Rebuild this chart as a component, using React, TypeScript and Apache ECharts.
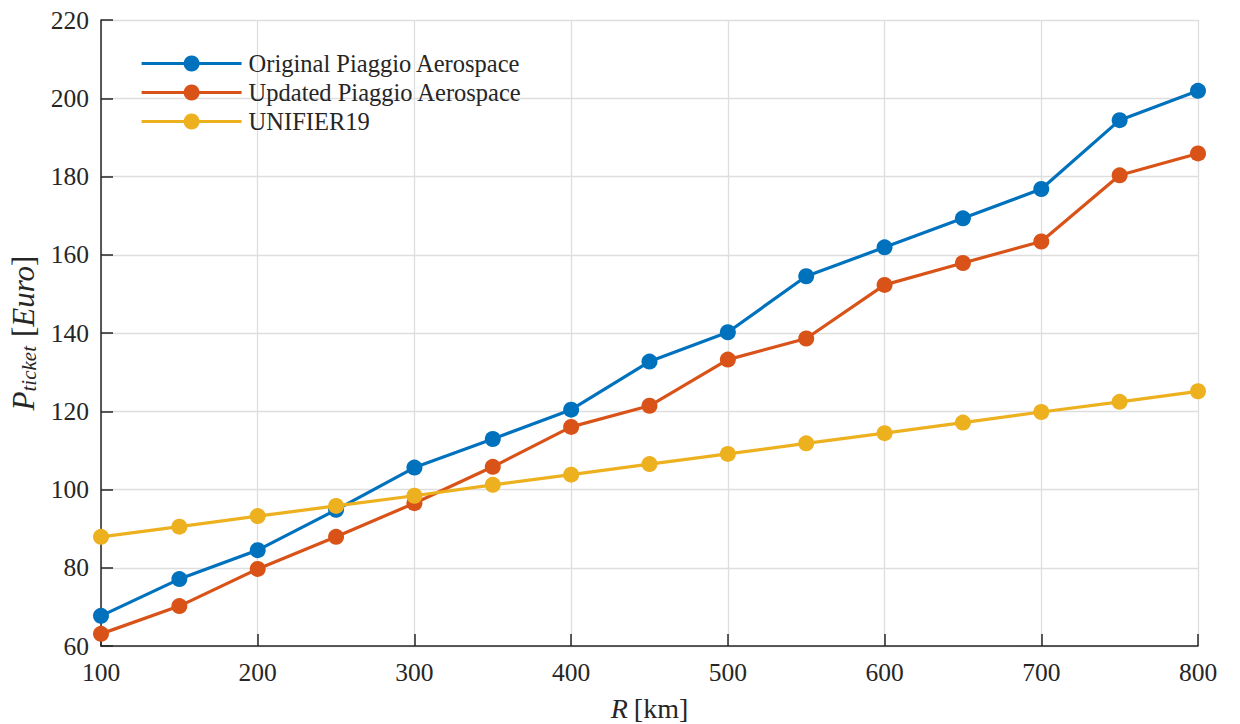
import React, { useEffect, useRef } from "react";
import * as echarts from "echarts";

const ranges = [100, 150, 200, 250, 300, 350, 400, 450, 500, 550, 600, 650, 700, 750, 800];
const originalPiaggio = [67.7, 77.1, 84.5, 94.8, 105.6, 112.9, 120.4, 132.7, 140.2, 154.5, 161.9, 169.3, 176.8, 194.4, 201.9];
const updatedPiaggio = [63.1, 70.2, 79.7, 87.9, 96.5, 105.8, 116.0, 121.4, 133.2, 138.6, 152.3, 157.9, 163.4, 180.3, 185.9];
const unifier19 = [87.9, 90.5, 93.2, 95.8, 98.4, 101.2, 103.8, 106.5, 109.1, 111.8, 114.4, 117.1, 119.8, 122.4, 125.1];
const seriesNames = ["Original Piaggio Aerospace", "Updated Piaggio Aerospace", "UNIFIER19"];
const colors = ["#0072BD", "#D95319", "#EDB120"];

const FONT = "Liberation Serif";
const TEXT = "#262626";

export default function App() {
  const ref = useRef<HTMLDivElement>(null);
  useEffect(() => {
    if (!ref.current) return;
    const chart = echarts.init(ref.current, null, { renderer: "svg" });
    const datasets = [originalPiaggio, updatedPiaggio, unifier19];
    chart.setOption({
      animation: false,
      backgroundColor: "#ffffff",
      textStyle: { fontFamily: FONT },
      grid: { left: 101, right: 42, top: 20, bottom: 78, containLabel: false, outerBoundsMode: "none" },
      legend: {
        left: 140,
        top: 51,
        padding: 0,
        orient: "vertical",
        itemWidth: 100,
        itemHeight: 20,
        itemGap: 4,
        lineStyle: { width: 3.2 },
        textStyle: { fontFamily: FONT, fontSize: 24.5, color: TEXT, padding: [0, 0, 0, 2] },
        data: seriesNames,
      },
      xAxis: {
        type: "value",
        min: 100,
        max: 800,
        interval: 100,
        name: "{i|R}  {n|[km]}",
        nameLocation: "middle",
        nameGap: 48,
        nameTextStyle: {
          rich: {
            i: { fontFamily: FONT, fontStyle: "italic", fontSize: 28, color: TEXT },
            n: { fontFamily: FONT, fontSize: 28, color: TEXT },
          },
        },
        axisLine: { show: true, lineStyle: { color: TEXT, width: 1.5 } },
        axisTick: { show: true, inside: true, length: 12, lineStyle: { color: TEXT, width: 1.5 } },
        axisLabel: { fontFamily: FONT, fontSize: 25.5, color: TEXT, margin: 13 },
        splitLine: { show: true, lineStyle: { color: "#dedede", width: 1.3 } },
      },
      yAxis: {
        type: "value",
        min: 60,
        max: 220,
        interval: 20,
        name: "{p|P}{s|ticket}   {n|[}{e|Euro}{n|]}",
        nameLocation: "middle",
        nameRotate: 90,
        nameGap: 60,
        nameTextStyle: {
          rich: {
            p: { fontFamily: FONT, fontStyle: "italic", fontSize: 31, color: TEXT },
            s: { fontFamily: FONT, fontStyle: "italic", fontSize: 21, color: TEXT, padding: [11, 0, 0, 0], verticalAlign: "top" },
            n: { fontFamily: FONT, fontSize: 31, color: TEXT },
            e: { fontFamily: FONT, fontStyle: "italic", fontSize: 31, color: TEXT },
          },
        },
        axisLine: { show: true, lineStyle: { color: TEXT, width: 1.5 } },
        axisTick: { show: true, inside: true, length: 12, lineStyle: { color: TEXT, width: 1.5 } },
        axisLabel: { fontFamily: FONT, fontSize: 25.5, color: TEXT, margin: 12 },
        splitLine: { show: true, lineStyle: { color: "#dedede", width: 1.3 } },
      },
      series: datasets.map((d, i) => ({
        name: seriesNames[i],
        type: "line",
        data: ranges.map((r, j) => [r, d[j]]),
        symbol: "circle",
        symbolSize: 16,
        color: colors[i],
        lineStyle: { color: colors[i], width: 3.2 },
        itemStyle: { color: colors[i] },
        z: 3 + i,
      })),
    });
    return () => chart.dispose();
  }, []);
  return (
    <div
      ref={ref}
      style={{ position: "absolute", left: 0, top: 0, width: 1240, height: 724 }}
    />
  );
}
